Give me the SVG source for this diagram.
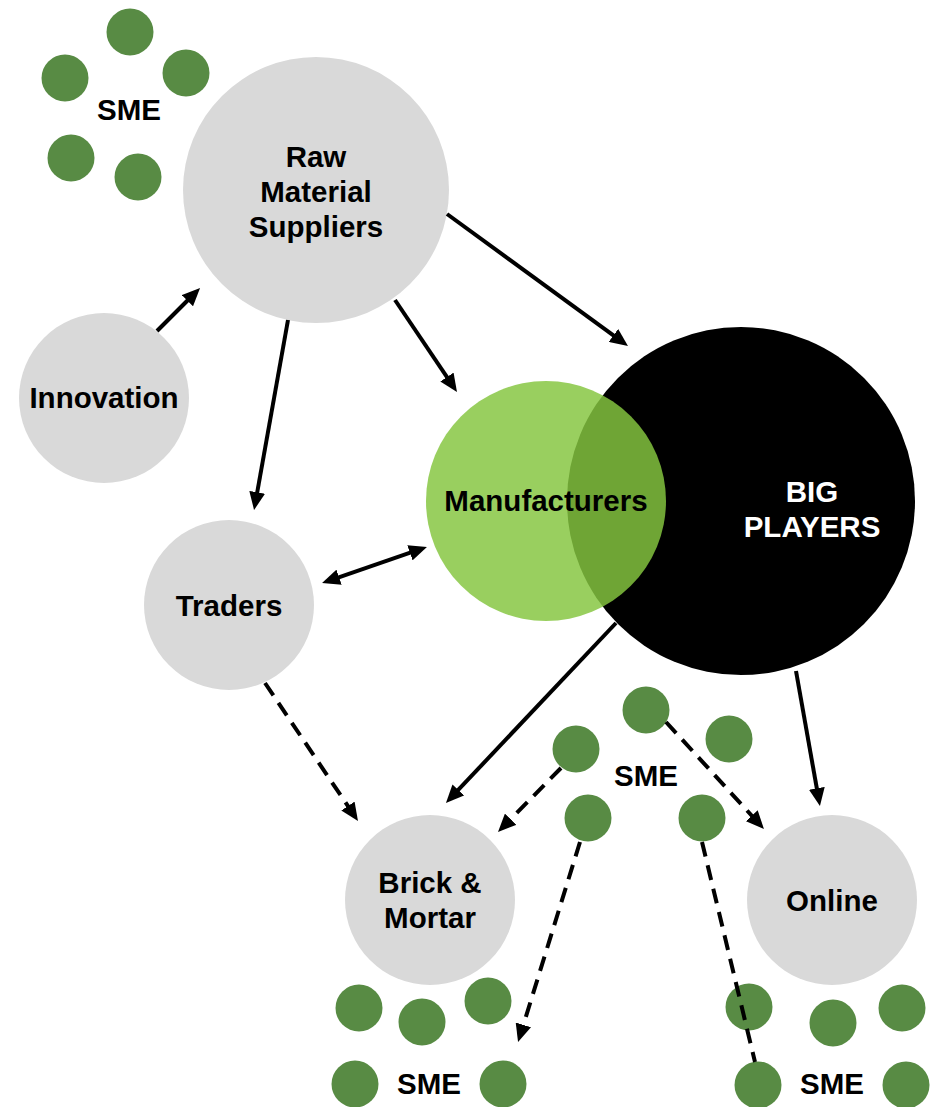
<svg xmlns="http://www.w3.org/2000/svg" width="939" height="1107" viewBox="0 0 939 1107">
  <defs>
    <style>
      .lbl { font-family: "Liberation Sans", Arial, sans-serif; font-weight: bold; font-size: 29.5px; fill: #000; text-anchor: middle; }
      .lbl-w { fill: #fff; }
      .hub { fill: #d9d9d9; }
      .sme { fill: #588b44; }
      .link { stroke: #000; stroke-width: 4; fill: none; stroke-linecap: butt; }
      .dash { stroke-dasharray: 15 9; }
      .arr { marker-end: url(#head); }
    </style>
    <marker id="head" viewBox="0 0 18 16" refX="8" refY="8" markerWidth="18" markerHeight="16" markerUnits="userSpaceOnUse" orient="auto-start-reverse">
      <path d="M0,0 L18,8 L0,16 Z" fill="#000"/>
    </marker>
  </defs>

  <rect width="939" height="1107" fill="#fff"/>

  <!-- supplier-side SME cluster -->
  <g id="sme-suppliers">
    <circle class="sme" cx="130" cy="32" r="23.5"/>
    <circle class="sme" cx="65" cy="78" r="23.5"/>
    <circle class="sme" cx="186" cy="73" r="23.5"/>
    <circle class="sme" cx="71" cy="158" r="23.5"/>
    <circle class="sme" cx="138" cy="177" r="23.5"/>
    <text class="lbl" x="129" y="120">SME</text>
  </g>

  <g id="raw-material-suppliers">
    <circle class="hub" cx="316" cy="190" r="133"/>
    <text class="lbl" x="316" y="167">Raw</text>
    <text class="lbl" x="316" y="202">Material</text>
    <text class="lbl" x="316" y="237">Suppliers</text>
  </g>

  <g id="innovation">
    <circle class="hub" cx="104" cy="398" r="85"/>
    <text class="lbl" x="104" y="408">Innovation</text>
  </g>

  <g id="traders">
    <circle class="hub" cx="229" cy="605" r="85"/>
    <text class="lbl" x="229" y="616">Traders</text>
  </g>

  <g id="big-players">
    <circle cx="741" cy="501" r="174" fill="#000"/>
    <text class="lbl lbl-w" x="812" y="502">BIG</text>
    <text class="lbl lbl-w" x="812" y="537">PLAYERS</text>
  </g>

  <g id="manufacturers">
    <circle cx="546" cy="501" r="120" fill="rgb(133,198,63)" fill-opacity="0.835"/>
    <text class="lbl" x="546" y="511">Manufacturers</text>
  </g>

  <g id="brick-and-mortar">
    <circle class="hub" cx="430" cy="900" r="85"/>
    <text class="lbl" x="430" y="893">Brick &amp;</text>
    <text class="lbl" x="430" y="928">Mortar</text>
  </g>

  <g id="online">
    <circle class="hub" cx="832" cy="900" r="85"/>
    <text class="lbl" x="832" y="911">Online</text>
  </g>

  <!-- SME cluster between the retail channels -->
  <g id="sme-middle">
    <circle class="sme" cx="646" cy="710" r="23.5"/>
    <circle class="sme" cx="729" cy="739" r="23.5"/>
    <circle class="sme" cx="576" cy="749" r="23.5"/>
    <circle class="sme" cx="588" cy="818" r="23.5"/>
    <circle class="sme" cx="702" cy="818" r="23.5"/>
    <text class="lbl" x="646" y="786">SME</text>
  </g>

  <g id="sme-brick">
    <circle class="sme" cx="359" cy="1008" r="23.5"/>
    <circle class="sme" cx="422" cy="1022" r="23.5"/>
    <circle class="sme" cx="488" cy="1001" r="23.5"/>
    <circle class="sme" cx="355" cy="1084" r="23.5"/>
    <circle class="sme" cx="503" cy="1084" r="23.5"/>
    <text class="lbl" x="429" y="1094">SME</text>
  </g>

  <g id="sme-online">
    <circle class="sme" cx="749" cy="1007" r="23.5"/>
    <circle class="sme" cx="833" cy="1023" r="23.5"/>
    <circle class="sme" cx="902" cy="1008" r="23.5"/>
    <circle class="sme" cx="758" cy="1085" r="23.5"/>
    <circle class="sme" cx="906" cy="1085" r="23.5"/>
    <text class="lbl" x="832" y="1094">SME</text>
  </g>

  <!-- connectors -->
  <g id="connectors">
    <line class="link arr" x1="157" y1="331" x2="193" y2="295"/>
    <line class="link arr" x1="288" y1="320" x2="255.8" y2="500.2"/>
    <line class="link arr" x1="395" y1="300" x2="451.4" y2="383.7"/>
    <line class="link arr" x1="447" y1="214" x2="619.9" y2="340.1"/>
    <line class="link" marker-start="url(#head)" marker-end="url(#head)" x1="331.5" y1="579.8" x2="417.5" y2="550.2"/>
    <line class="link arr" x1="616" y1="623" x2="452.8" y2="795.7"/>
    <line class="link arr" x1="796" y1="671" x2="818.2" y2="796.2"/>
    <line class="link dash arr" x1="265" y1="683" x2="352.4" y2="812.7"/>
    <line class="link dash arr" x1="561" y1="768" x2="505" y2="824.9"/>
    <line class="link dash arr" x1="666" y1="722" x2="757.2" y2="821.6"/>
    <line class="link dash arr" x1="580" y1="842" x2="521" y2="1032.5"/>
    <line class="link dash" x1="702" y1="842" x2="755" y2="1062"/>
  </g>
</svg>
